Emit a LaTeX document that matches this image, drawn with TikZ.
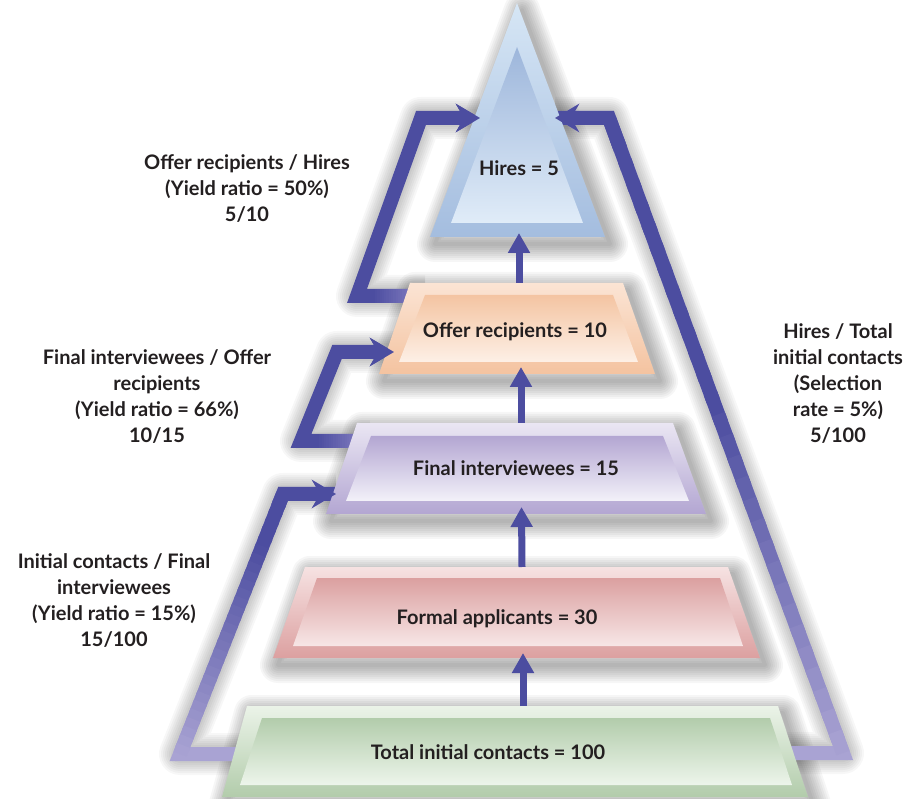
\documentclass[tikz,border=0pt]{standalone}
\usepackage{fontspec}
\setmainfont{Lato}
\usetikzlibrary{arrows.meta,calc}
\definecolor{bandD}{HTML}{4C4DA0}
\definecolor{bandL}{HTML}{A9A3D3}
\definecolor{bandM}{HTML}{8C86C6}
\definecolor{txt}{HTML}{231F20}
\definecolor{hiOt}{HTML}{D6E6F5}\definecolor{hiOb}{HTML}{A4BDDF}
\definecolor{hiIt}{HTML}{9DB6DB}\definecolor{hiIb}{HTML}{E0ECF8}
\definecolor{ofOt}{HTML}{FBE4D4}\definecolor{ofOb}{HTML}{F4C3A0}
\definecolor{ofIt}{HTML}{F4C4A2}\definecolor{ofIb}{HTML}{FDF0E6}
\definecolor{fiOt}{HTML}{EAE6F3}\definecolor{fiOb}{HTML}{B3A6D2}
\definecolor{fiIt}{HTML}{B3A6D2}\definecolor{fiIb}{HTML}{F3F1F9}
\definecolor{foOt}{HTML}{F6E2E2}\definecolor{foOb}{HTML}{DCA0A0}
\definecolor{foIt}{HTML}{DBA0A0}\definecolor{foIb}{HTML}{F7E6E6}
\definecolor{grOt}{HTML}{EBF3E8}\definecolor{grOb}{HTML}{B2CCAB}
\definecolor{grIt}{HTML}{B2CCAB}\definecolor{grIb}{HTML}{EDF5EB}
\newcommand\softshadow[1]{\foreach \w in {4,8,...,36}{\draw[black, draw opacity=0.035, line width={\w pt}, line join=round, shift={(5,7)}] #1;}}
\newcommand\bandshadow[1]{\foreach \w in {18,22,...,42}{\draw[black, draw opacity=0.03, line width={\w pt}, line join=round, shift={(6,6)}] #1;}}
% gradient along a straight band piece: from, to, fraction where fading starts, light colour
\newcommand\gradband[4]{\foreach \i in {0,...,29}{%
  \pgfmathsetmacro\ta{\i/30}%
  \pgfmathsetmacro\tb{min(1,(\i+1.4)/30)}%
  \pgfmathsetmacro\pp{max(0,min(100,(1-(\i+0.5)/30)/(1-#3)*100))}%
  \draw[line width=14pt, bandD!\pp!#4] ($(#1)!\ta!(#2)$) -- ($(#1)!\tb!(#2)$);}}
\tikzset{
  band/.style={line width=14pt, line join=miter, miter limit=10},
  bandtip/.style={-{Stealth[length=24pt,width=28pt,inset=8pt]}},
  varrow/.style={draw=bandD, line width=7pt, -{Triangle[length=20pt,width=21pt]}},
  lbox/.style={inner sep=0pt, outer sep=0pt, draw=none},
  lvltext/.style={font=\fontsize{20}{22}\selectfont\bfseries, text=txt, inner sep=0pt},
  lbl/.style={font=\fontsize{20}{26}\selectfont\bfseries, text=txt, align=center, inner sep=0pt}
}
\begin{document}
\begin{tikzpicture}[x=1pt,y=-1pt]
\useasboundingbox (0,0) rectangle (919,799);
\fill[white] (0,0) rectangle (919,799);
% named coordinates for band corners
\coordinate (b1s) at (425,296); \coordinate (b1a) at (357,296); \coordinate (b1b) at (421,118); \coordinate (b1t) at (480,118);
\coordinate (b2s) at (370,441); \coordinate (b2a) at (301,441); \coordinate (b2b) at (337,352); \coordinate (b2t) at (394,352);
\coordinate (b3s) at (270,754); \coordinate (b3a) at (180,754); \coordinate (b3b) at (283,494); \coordinate (b3t) at (336,494);
\coordinate (b4s) at (770,753); \coordinate (b4a) at (843,753); \coordinate (b4b) at (609,118); \coordinate (b4t) at (555,118);
% shadows
\bandshadow{(b1s) -- (b1a) -- (b1b) -- (b1t)}
\bandshadow{(b2s) -- (b2a) -- (b2b) -- (b2t)}
\bandshadow{(b3s) -- (b3a) -- (b3b) -- (b3t)}
\bandshadow{(b4s) -- (b4a) -- (b4b) -- (b4t)}
\softshadow{(517,3) -- (605,237) -- (430,237) -- cycle}
\softshadow{(410,283) -- (623,283) -- (655,374) -- (379,374) -- cycle}
\softshadow{(357,423) -- (673,423) -- (706,514) -- (326,514) -- cycle}
\softshadow{(305,567) -- (728,567) -- (760,658) -- (273,658) -- cycle}
\softshadow{(247,706) -- (778,706) -- (808,797) -- (222,797) -- cycle}
% bands
\draw[band, bandD, bandtip] (b1s) -- (b1a) -- (b1b) -- (b1t);
\gradband{b1a}{b1s}{0.25}{bandM}
\draw[band, bandD, bandtip] (b2s) -- (b2a) -- (b2b) -- (b2t);
\gradband{b2a}{b2s}{0.25}{bandM}
\draw[band, bandL, bandtip] (b3s) -- (b3a) -- (b3b) -- (b3t);
\draw[band, bandD] ($(b3b)!0.05!(b3a)$) -- (b3b) -- (b3t);
\gradband{b3b}{b3a}{0.2}{bandL}
\draw[band, bandL, bandtip] (b4s) -- (b4a) -- (b4b) -- (b4t);
\draw[band, bandD] ($(b4b)!0.05!(b4a)$) -- (b4b) -- (b4t);
\gradband{b4b}{b4a}{0.45}{bandL}
% levels
\shade[top color=hiOt, bottom color=hiOb] (517,3) -- (605,237) -- (430,237) -- cycle;
\shade[top color=hiIt, bottom color=hiIb] (517,47) -- (583,223) -- (451,223) -- cycle;
\node[lbox, minimum width=175pt, minimum height=234pt] (hires) at (517.5,120) {};
\shade[top color=ofOt, bottom color=ofOb] (410,283) -- (623,283) -- (655,374) -- (379,374) -- cycle;
\shade[top color=ofIt, bottom color=ofIb] (425,295) -- (613,295) -- (638,362) -- (399,362) -- cycle;
\node[lbox, minimum width=276pt, minimum height=91pt] (offer) at (517,328.5) {};
\shade[top color=fiOt, bottom color=fiOb] (357,423) -- (673,423) -- (706,514) -- (326,514) -- cycle;
\shade[top color=fiIt, bottom color=fiIb] (371,436) -- (663,436) -- (689,501) -- (346,501) -- cycle;
\node[lbox, minimum width=380pt, minimum height=91pt] (final) at (516,468.5) {};
\shade[top color=foOt, bottom color=foOb] (305,567) -- (728,567) -- (760,658) -- (273,658) -- cycle;
\shade[top color=foIt, bottom color=foIb] (317,578) -- (720,578) -- (743,646) -- (293,646) -- cycle;
\node[lbox, minimum width=487pt, minimum height=91pt] (formal) at (516.5,612.5) {};
\shade[top color=grOt, bottom color=grOb] (247,706) -- (778,706) -- (808,797) -- (222,797) -- cycle;
\shade[top color=grIt, bottom color=grIb] (262,718) -- (770,718) -- (792,785) -- (240,785) -- cycle;
\node[lbox, minimum width=586pt, minimum height=91pt] (green) at (515,751.5) {};
% band heads on top
\draw[band, bandD, bandtip] (b1b) -- (b1t);
\draw[band, bandD, bandtip] (b2b) -- (b2t);
\draw[band, bandD, bandtip] (b3b) -- (b3t);
\draw[band, bandD, bandtip] (b4b) -- (b4t);
% vertical arrows
\draw[varrow] ([xshift=2pt]offer.north) -- ([xshift=1.5pt,yshift=4pt]hires.south);
\draw[varrow] ([xshift=5pt]final.north) -- ([xshift=4pt,yshift=7pt]offer.south);
\draw[varrow] ([xshift=5.5pt]formal.north) -- ([xshift=5.5pt,yshift=7pt]final.south);
\draw[varrow] ([xshift=8pt]green.north) -- ([xshift=6.5pt,yshift=5pt]formal.south);
% texts
\node[lvltext] (hiresT) at (519,168) {Hires = 5};
\node[lvltext] (offerT) at (515,332) {Offer recipients = 10};
\node[lvltext] (finalT) at (516,468) {Final interviewees = 15};
\node[lvltext] (formalT) at (497,619) {Formal applicants = 30};
\node[lvltext] (greenT) at (488,752) {Total initial contacts = 100};
\node[lbl] (l1) at (247,189) {Offer recipients / Hires\\(Yield ratio = 50\%)\\5/10};
\node[lbl] (l2) at (157,397) {Final interviewees / Offer\\recipients\\(Yield ratio = 66\%)\\10/15};
\node[lbl] (l3) at (114,601) {Initial contacts / Final\\interviewees\\(Yield ratio = 15\%)\\15/100};
\node[lbl] (l4) at (838,383.5) {Hires / Total\\initial contacts\\(Selection\\rate = 5\%)\\5/100};
\end{tikzpicture}
\end{document}
